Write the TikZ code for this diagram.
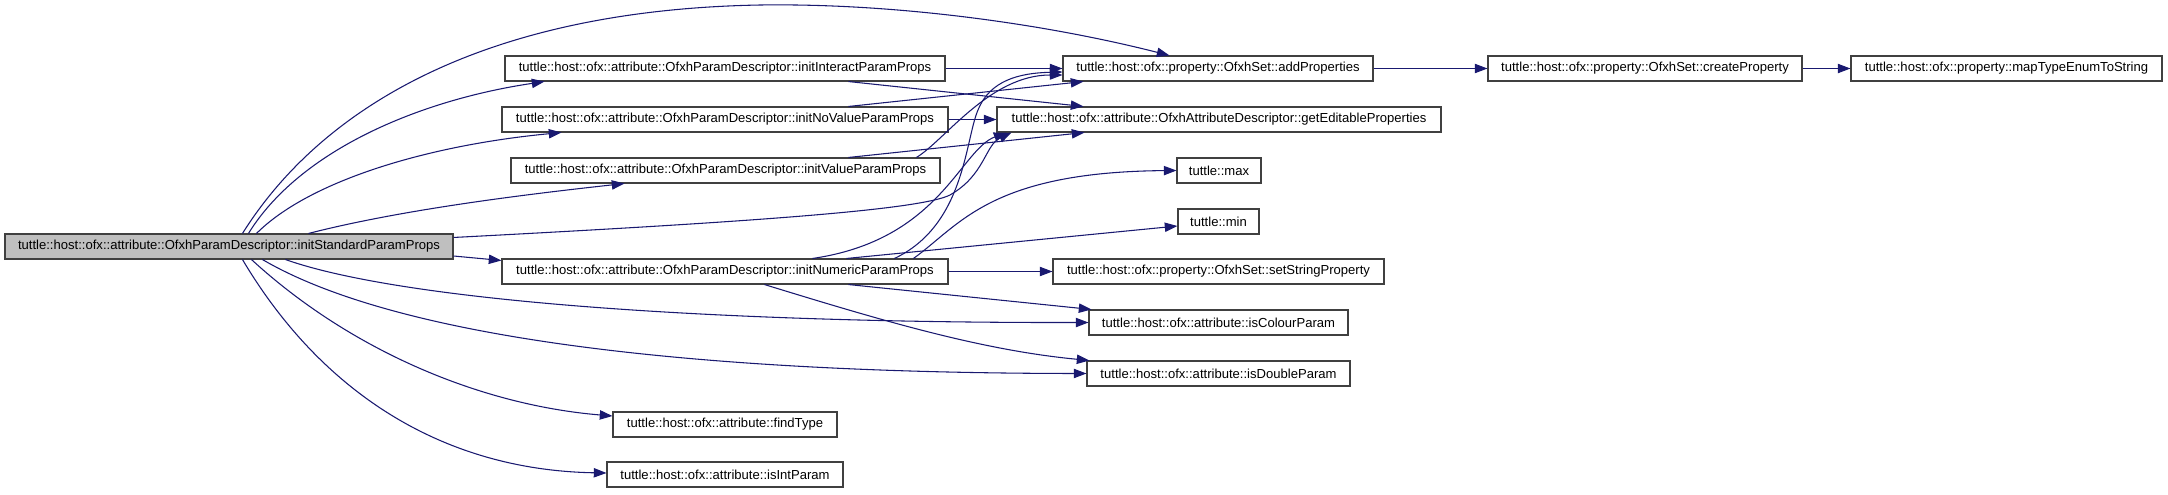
\documentclass[tikz,border=0pt]{standalone}
\usepackage{fontspec}
\setmainfont{Liberation Sans}
\usetikzlibrary{arrows.meta,calc}
\definecolor{edgeblue}{HTML}{191970}
\begin{document}
\begin{tikzpicture}[x=0.75pt,y=-0.75pt,
  fn/.style={draw=black!75,line width=0.8pt,fill=white,minimum height=18.75pt,inner sep=0pt,font=\fontsize{9.8}{11.8}\selectfont},
  call/.style={draw=edgeblue,line width=0.8pt,-{Triangle[length=9.5pt,width=7pt]}}]
\useasboundingbox (0,0) rectangle (2168,494);
\node[fn,fill=black!25,minimum width=336pt] (root) at (229,246.5) {tuttle::host::ofx::attribute::OfxhParamDescriptor::initStandardParamProps};
\node[fn,minimum width=330pt] (initInteract) at (725,68.5) {tuttle::host::ofx::attribute::OfxhParamDescriptor::initInteractParamProps};
\node[fn,minimum width=334.5pt] (initNoValue) at (725,119.5) {tuttle::host::ofx::attribute::OfxhParamDescriptor::initNoValueParamProps};
\node[fn,minimum width=321.75pt] (initValue) at (725.5,170.5) {tuttle::host::ofx::attribute::OfxhParamDescriptor::initValueParamProps};
\node[fn,minimum width=334.5pt] (initNumeric) at (725,271.5) {tuttle::host::ofx::attribute::OfxhParamDescriptor::initNumericParamProps};
\node[fn,minimum width=168pt] (findType) at (725,424.5) {tuttle::host::ofx::attribute::findType};
\node[fn,minimum width=177pt] (isInt) at (725,474.5) {tuttle::host::ofx::attribute::isIntParam};
\node[fn,minimum width=232.5pt] (addProperties) at (1218,68.5) {tuttle::host::ofx::property::OfxhSet::addProperties};
\node[fn,minimum width=333pt] (getEditable) at (1219,119.5) {tuttle::host::ofx::attribute::OfxhAttributeDescriptor::getEditableProperties};
\node[fn,minimum width=63pt] (max) at (1219,170.5) {tuttle::max};
\node[fn,minimum width=60.75pt] (min) at (1218.5,221.5) {tuttle::min};
\node[fn,minimum width=248.25pt] (setString) at (1218.5,271.5) {tuttle::host::ofx::property::OfxhSet::setStringProperty};
\node[fn,minimum width=194.25pt] (isColour) at (1218.5,322.5) {tuttle::host::ofx::attribute::isColourParam};
\node[fn,minimum width=197.25pt] (isDouble) at (1218.5,373.5) {tuttle::host::ofx::attribute::isDoubleParam};
\node[fn,minimum width=235.5pt] (createProperty) at (1645,68.5) {tuttle::host::ofx::property::OfxhSet::createProperty};
\node[fn,minimum width=233.25pt] (mapType) at (2006.5,68.5) {tuttle::host::ofx::property::mapTypeEnumToString};
\draw[call] ($(root.north west)+(238,0)$) .. controls (320,110) and (480,10) .. (760,5) .. controls (900,3) and (1050,25) .. ($(addProperties.north west)+(107,0)$);
\draw[call] ($(root.north west)+(244,0)$) .. controls (300,150) and (420,100) .. ($(initInteract.south west)+(40,0)$);
\draw[call] ($(root.north west)+(252,0)$) .. controls (310,180) and (430,145) .. ($(initNoValue.south west)+(60,0)$);
\draw[call] ($(root.north west)+(304,0)$) .. controls (400,210) and (520,195) .. ($(initValue.south west)+(114,0)$);
\draw[call] ($(root.north east)+(0,4)$) .. controls (750,222) and (920,210) .. (950,195) .. controls (985,175) and (985,145) .. ($(getEditable.south west)+(15,0)$);
\draw[call] ($(root.east)+(0,9.5)$) -- ($(initNumeric.north west)+(0,2)$);
\draw[call] ($(root.south west)+(281,0)$) .. controls (400,300) and (700,323) .. (isColour.west);
\draw[call] ($(root.south west)+(258,0)$) .. controls (400,340) and (700,373) .. (isDouble.west);
\draw[call] ($(root.south west)+(247,0)$) .. controls (350,350) and (480,405) .. ($(findType.west)+(0,-8.5)$);
\draw[call] ($(root.south west)+(238,0)$) .. controls (320,390) and (440,470) .. ($(isInt.west)+(0,-1.5)$);
\draw[call] (initInteract.east) -- (addProperties.west);
\draw[call] ($(initInteract.south west)+(344,0)$) -- ($(getEditable.north west)+(87,0)$);
\draw[call] (initNoValue.east) -- (getEditable.west);
\draw[call] ($(initNoValue.north west)+(347,0)$) -- ($(addProperties.south west)+(21,0)$);
\draw[call] ($(initValue.north west)+(338,0)$) -- ($(getEditable.south west)+(88,0)$);
\draw[call] ($(initValue.north west)+(406,0)$) .. controls (945,140) and (990,75) .. ($(addProperties.west)+(0,6.5)$);
\draw[call] (initNumeric.east) -- (setString.west);
\draw[call] ($(initNumeric.south west)+(347,0)$) -- ($(isColour.north west)+(3,0)$);
\draw[call] ($(initNumeric.south west)+(263,0)$) .. controls (880,320) and (980,350) .. ($(isDouble.north west)+(3,0)$);
\draw[call] ($(initNumeric.north west)+(345,0)$) -- ($(min.west)+(0,4.5)$);
\draw[call] ($(initNumeric.north west)+(412,0)$) .. controls (960,225) and (990,172) .. (max.west);
\draw[call] ($(initNumeric.north west)+(393,0)$) .. controls (965,225) and (965,140) .. (978,110) .. controls (990,80) and (1020,73) .. ($(addProperties.west)+(0,3.5)$);
\draw[call] ($(initNumeric.north west)+(311,0)$) .. controls (940,240) and (960,150) .. ($(getEditable.south west)+(10,0)$);
\draw[call] (addProperties.east) -- (createProperty.west);
\draw[call] (createProperty.east) -- (mapType.west);
\end{tikzpicture}
\end{document}
